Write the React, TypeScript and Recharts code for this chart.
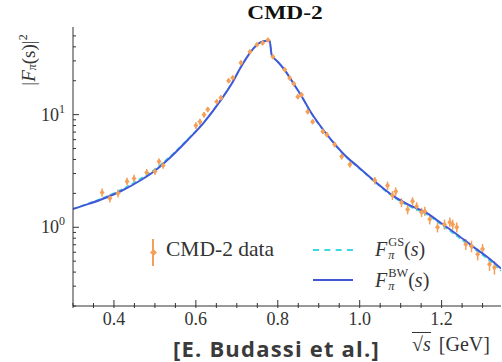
import React from 'react';
import {
  ComposedChart,
  ErrorBar,
  Line,
  Scatter,
  XAxis,
  YAxis,
} from 'recharts';

// CMD-2 measurements: sqrt(s) [GeV], |F_pi|^2 and its error
const dataX = [
  0.371, 0.39, 0.41, 0.432, 0.449, 0.48, 0.5, 0.51, 0.52, 0.6, 0.61, 0.62,
  0.629, 0.651, 0.661, 0.68, 0.69, 0.71, 0.732, 0.749, 0.763, 0.776, 0.788,
  0.817, 0.829, 0.839, 0.849, 0.858, 0.873, 0.885, 0.91, 0.92, 0.939, 0.956,
  0.976, 1.037, 1.068, 1.08, 1.088, 1.102, 1.117, 1.129, 1.139, 1.151, 1.159,
  1.171, 1.19, 1.207, 1.22, 1.227, 1.237, 1.259, 1.273, 1.288, 1.3, 1.317,
  1.329,
];
const dataY = [
  2.04, 1.81, 2.0, 2.55, 2.71, 3.07, 3.13, 3.84, 3.54, 8.0, 8.66, 10.0, 11.1,
  13.0, 14.1, 20.0, 21.3, 28.9, 36.1, 41.7, 43.3, 46.0, 32.6, 25.0, 21.2, 18.8,
  14.4, 15.0, 10.6, 8.66, 7.07, 6.64, 5.43, 4.25, 3.61, 2.6, 2.35, 1.92, 2.08,
  1.66, 1.44, 1.7, 1.53, 1.36, 1.39, 1.18, 1.0, 1.06, 1.11, 1.06, 1.0, 0.707,
  0.68, 0.577, 0.64, 0.47, 0.44,
];
const dataErr = [
  0.17, 0.15, 0.16, 0.2, 0.22, 0.22, 0.22, 0.25, 0.24, 0.55, 0.55, 0.55, 0.6,
  0.65, 0.7, 0.9, 0.9, 1.1, 1.2, 1.3, 1.3, 1.4, 1.1, 0.9, 0.8, 0.7, 0.6, 0.6,
  0.5, 0.4, 0.35, 0.33, 0.3, 0.25, 0.22, 0.2, 0.2, 0.17, 0.18, 0.15, 0.14,
  0.15, 0.14, 0.13, 0.13, 0.12, 0.1, 0.11, 0.11, 0.11, 0.1, 0.08, 0.08, 0.07,
  0.07, 0.06, 0.06,
];

// model curves
const curveX = [
  0.3, 0.34, 0.38, 0.42, 0.46, 0.5, 0.54, 0.58, 0.62, 0.66, 0.69, 0.71, 0.73,
  0.75, 0.765, 0.78, 0.785, 0.79, 0.8, 0.82, 0.84, 0.86, 0.88, 0.9, 0.93, 0.96,
  1.0, 1.04, 1.08, 1.12, 1.16, 1.2, 1.24, 1.28, 1.31, 1.345,
];
const bwCurve = [
  1.45, 1.62, 1.83, 2.12, 2.55, 3.18, 4.25, 5.95, 8.55, 13.3, 19.5, 26.5, 34.5,
  42, 44.8, 45.5, 34, 32, 29.5, 24, 18.5, 14.2, 10.6, 8.3, 6.0, 4.5, 3.35, 2.5,
  1.92, 1.58, 1.36, 1.08, 0.85, 0.66, 0.55, 0.43,
];
const gsCurve = [
  1.46, 1.64, 1.87, 2.18, 2.64, 3.28, 4.36, 6.05, 8.65, 13.4, 19.7, 26.6, 34.6,
  42.1, 44.9, 45.4, 34.2, 32.1, 29.4, 23.8, 18.4, 14.1, 10.5, 8.2, 5.95, 4.45,
  3.3, 2.46, 1.88, 1.54, 1.32, 1.05, 0.82, 0.64, 0.53, 0.41,
];

const xTicks = [
  0.3, 0.35, 0.4, 0.45, 0.5, 0.55, 0.6, 0.65, 0.7, 0.75, 0.8, 0.85, 0.9, 0.95,
  1.0, 1.05, 1.1, 1.15, 1.2, 1.25, 1.3,
];
const xMajor = [0.4, 0.6, 0.8, 1.0, 1.2];
const xLabels = ['0.4', '0.6', '0.8', '1.0', '1.2'];
const yTicks = [
  0.2, 0.3, 0.4, 0.5, 0.6, 0.7, 0.8, 0.9, 1, 2, 3, 4, 5, 6, 7, 8, 9, 10, 20,
  30, 40, 50,
];
const yMajor = [1, 10];
const yLabels = ['0', '1'];

const points = dataX.map((x, i) => ({ x, y: dataY[i], err: dataErr[i] }));
const bwData = curveX.map((x, i) => ({ x, v: bwCurve[i] }));
const gsData = curveX.map((x, i) => ({ x, v: gsCurve[i] }));

const ORANGE = '#f5a05a';
const BLUE = '#4058d8';
const CYAN = '#3fd8e0';
const INK = '#333';
const SERIF = '"Liberation Serif", "DejaVu Serif", serif';

const isMajor = (list: number[], v: number) =>
  list.some((m) => Math.abs(m - v) < 1e-6);

const BottomTick = (props: any) => {
  const { x, y, payload } = props;
  const major = isMajor(xMajor, payload.value);
  const idx = xMajor.findIndex((m) => Math.abs(m - payload.value) < 1e-6);
  return (
    <g>
      <line x1={x} x2={x} y1={y + 2} y2={y - (major ? 6 : 3)} stroke={INK} />
      {major && (
        <text x={x} y={y + 19} textAnchor="middle" fontSize={18} fill={INK} fontFamily={SERIF}>
          {xLabels[idx]}
        </text>
      )}
    </g>
  );
};

const TopTick = (props: any) => {
  const { x, y, payload } = props;
  const major = isMajor(xMajor, payload.value);
  return <line x1={x} x2={x} y1={y} y2={y + (major ? 6 : 3)} stroke={INK} />;
};

const LeftTick = (props: any) => {
  const { x, y, payload } = props;
  const major = isMajor(yMajor, payload.value);
  const idx = yMajor.findIndex((m) => Math.abs(m - payload.value) < 1e-6);
  return (
    <g>
      <line x1={x} x2={x + (major ? 6 : 3)} y1={y} y2={y} stroke={INK} />
      {major && (
        <text x={x - 8} y={y + 6} textAnchor="end" fontSize={18} fill={INK} fontFamily={SERIF}>
          10
          <tspan fontSize={12} dy={-8}>
            {yLabels[idx]}
          </tspan>
        </text>
      )}
    </g>
  );
};

const RightTick = (props: any) => {
  const { x, y, payload } = props;
  const major = isMajor(yMajor, payload.value);
  return <line x1={x} x2={x - (major ? 6 : 3)} y1={y} y2={y} stroke={INK} />;
};

const Diamond = (props: any) => {
  const { cx, cy } = props;
  if (cx == null || cy == null) return null;
  return (
    <path
      d={`M${cx},${cy - 3}L${cx + 2.5},${cy}L${cx},${cy + 3}L${cx - 2.5},${cy}Z`}
      fill={ORANGE}
    />
  );
};

const FormFactor = ({ sup }: { sup: string }) => (
  <span style={{ display: 'inline-flex', alignItems: 'center' }}>
    <span style={{ fontStyle: 'italic' }}>F</span>
    <span
      style={{
        display: 'inline-flex',
        flexDirection: 'column',
        fontSize: '0.62em',
        lineHeight: 1.05,
        marginLeft: 1,
      }}
    >
      <span>{sup}</span>
      <span style={{ fontStyle: 'italic' }}>π</span>
    </span>
    <span>(</span>
    <span style={{ fontStyle: 'italic' }}>s</span>
    <span>)</span>
  </span>
);

export default function App() {
  return (
    <div
      style={{
        position: 'absolute',
        left: 0,
        top: 0,
        width: 502,
        height: 362,
        background: '#fff',
        overflow: 'hidden',
      }}
    >
      <ComposedChart
        width={502}
        height={362}
        margin={{ top: 27, right: 1, bottom: 0, left: 0 }}
      >
        <XAxis
          xAxisId="main"
          dataKey="x"
          type="number"
          domain={[0.3, 1.345]}
          allowDataOverflow
          ticks={xTicks}
          interval={0}
          height={56}
          tickSize={0}
          tickMargin={0}
          tickLine={false}
          tick={<BottomTick />}
          axisLine={{ stroke: INK }}
        />
        <XAxis
          xAxisId="top"
          orientation="top"
          dataKey="x"
          type="number"
          domain={[0.3, 1.345]}
          allowDataOverflow
          ticks={xTicks}
          interval={0}
          height={0}
          tickSize={0}
          tickMargin={0}
          tickLine={false}
          tick={<TopTick />}
          axisLine={{ stroke: INK }}
        />
        <YAxis
          yAxisId="main"
          scale="log"
          type="number"
          domain={[0.2, 60]}
          allowDataOverflow
          ticks={yTicks}
          interval={0}
          width={73}
          tickSize={0}
          tickMargin={0}
          tickLine={false}
          tick={<LeftTick />}
          axisLine={{ stroke: INK }}
        />
        <YAxis
          yAxisId="right"
          orientation="right"
          scale="log"
          type="number"
          domain={[0.2, 60]}
          allowDataOverflow
          ticks={yTicks}
          interval={0}
          width={0}
          tickSize={0}
          tickMargin={0}
          tickLine={false}
          tick={<RightTick />}
          axisLine={{ stroke: INK }}
        />
        <Line
          data={gsData}
          xAxisId="top"
          yAxisId="right"
          dataKey="v"
          stroke="none"
          dot={false}
          isAnimationActive={false}
        />
        <Scatter
          data={points}
          xAxisId="main"
          yAxisId="main"
          dataKey="y"
          shape={<Diamond />}
          isAnimationActive={false}
        >
          <ErrorBar
            dataKey="err"
            direction="y"
            width={0}
            stroke={ORANGE}
            strokeWidth={1.5}
          />
        </Scatter>
        <Line
          data={gsData}
          xAxisId="main"
          yAxisId="main"
          dataKey="v"
          type="monotone"
          stroke={CYAN}
          strokeWidth={1.5}
          strokeDasharray="5 3"
          dot={false}
          isAnimationActive={false}
        />
        <Line
          data={bwData}
          xAxisId="main"
          yAxisId="main"
          dataKey="v"
          type="monotone"
          stroke={BLUE}
          strokeWidth={2}
          dot={false}
          isAnimationActive={false}
        />
      </ComposedChart>

      <div
        style={{
          position: 'absolute',
          left: 285,
          top: 3,
          transform: 'translateX(-50%) scaleX(1.3)',
          fontFamily: SERIF,
          fontWeight: 700,
          fontSize: 18,
          color: '#111',
          whiteSpace: 'nowrap',
        }}
      >
        CMD-2
      </div>

      <div
        style={{
          position: 'absolute',
          left: 28,
          top: 60,
          transform: 'translate(-50%, -50%) rotate(-90deg)',
          fontFamily: SERIF,
          fontSize: 19,
          color: INK,
          whiteSpace: 'nowrap',
          display: 'flex',
          alignItems: 'center',
        }}
      >
        <span>|</span>
        <span style={{ fontStyle: 'italic' }}>F</span>
        <span style={{ fontStyle: 'italic', fontSize: 12, marginTop: 8 }}>π</span>
        <span>(s)|</span>
        <span style={{ fontSize: 12, marginTop: -10 }}>2</span>
      </div>

      {/* legend */}
      <div style={{ position: 'absolute', left: 152, top: 239, width: 2, height: 27, background: ORANGE }} />
      <div
        style={{
          position: 'absolute',
          left: 150.5,
          top: 249.5,
          width: 5,
          height: 5,
          background: ORANGE,
          transform: 'rotate(45deg)',
        }}
      />
      <div
        style={{
          position: 'absolute',
          left: 166,
          top: 239,
          fontFamily: SERIF,
          fontSize: 21.5,
          lineHeight: 1,
          color: INK,
          whiteSpace: 'nowrap',
        }}
      >
        CMD-2 data
      </div>
      <div
        style={{
          position: 'absolute',
          left: 313,
          top: 249,
          width: 40,
          height: 0,
          borderTop: `2px dashed ${CYAN}`,
        }}
      />
      <div
        style={{
          position: 'absolute',
          left: 313,
          top: 279,
          width: 40,
          height: 2,
          background: BLUE,
        }}
      />
      <div
        style={{
          position: 'absolute',
          left: 375,
          top: 236,
          fontFamily: SERIF,
          fontSize: 20,
          color: INK,
          whiteSpace: 'nowrap',
        }}
      >
        <FormFactor sup="GS" />
      </div>
      <div
        style={{
          position: 'absolute',
          left: 375,
          top: 267,
          fontFamily: SERIF,
          fontSize: 20,
          color: INK,
          whiteSpace: 'nowrap',
        }}
      >
        <FormFactor sup="BW" />
      </div>

      <div
        style={{
          position: 'absolute',
          left: 173,
          top: 337,
          fontFamily: '"Open Sans", sans-serif',
          fontWeight: 700,
          fontSize: 22,
          lineHeight: 1,
          letterSpacing: 1.2,
          color: '#3a3a3a',
          whiteSpace: 'nowrap',
        }}
      >
        [E. Budassi et al.]
      </div>
      <div
        style={{
          position: 'absolute',
          left: 412,
          top: 334,
          fontFamily: SERIF,
          fontSize: 20,
          lineHeight: 1,
          color: INK,
          whiteSpace: 'nowrap',
        }}
      >
        <span style={{ borderTop: `1px solid ${INK}` }}>
          √<span style={{ fontStyle: 'italic' }}>s</span>
        </span>
        <span style={{ marginLeft: 8 }}>[GeV]</span>
      </div>
    </div>
  );
}
